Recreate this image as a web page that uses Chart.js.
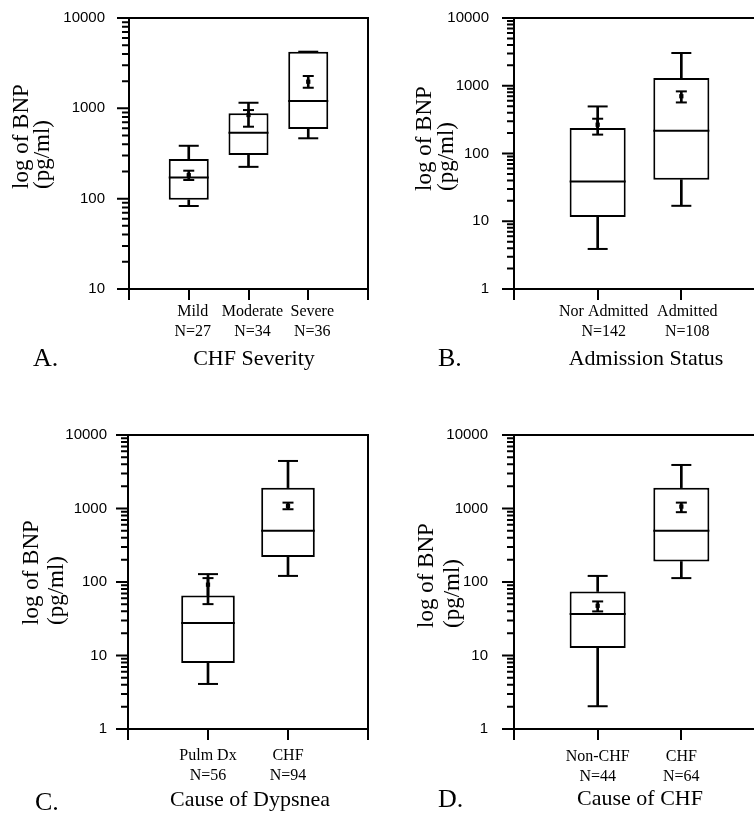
<!DOCTYPE html>
<html>
<head>
<meta charset="utf-8">
<script src="https://cdn.jsdelivr.net/npm/chart.js@4.4.1/dist/chart.umd.min.js"></script>
<style>
  html, body { margin: 0; padding: 0; background: #fff; }
  body { width: 754px; height: 813px; overflow: hidden; position: relative; }
  canvas { position: absolute; }
</style>
</head>
<body>
<canvas id="panelA" width="380" height="405" style="left:0;top:0;width:380px;height:405px"></canvas>
<canvas id="panelB" width="400" height="405" style="left:380px;top:0;width:400px;height:405px"></canvas>
<canvas id="panelC" width="380" height="408" style="left:0;top:405px;width:380px;height:408px"></canvas>
<canvas id="panelD" width="400" height="408" style="left:380px;top:405px;width:400px;height:408px"></canvas>
<script>
// A. CHF severity
const catsA = ['Mild', 'Moderate', 'Severe'];
const countsA = ['N=27', 'N=34', 'N=36'];
const minA = [83, 225, 466];
const q1A = [97, 304, 590];
const medA = [171, 537, 1206];
const q3A = [275, 881, 4236];
const maxA = [385, 1153, 4236];
const meanA = [182, 843, 1972];
const seLoA = [161, 626, 1690];
const seHiA = [204, 957, 2280];
const yTicksA = [10, 100, 1000, 10000];

// B. admission status
const catsB = ['Nor Admitted', 'Admitted'];
const countsB = ['N=142', 'N=108'];
const minB = [3.9, 16.9];
const q1B = [11.6, 41];
const medB = [38.7, 217];
const q3B = [238, 1301];
const maxB = [495, 3041];
const meanB = [266, 700];
const seLoB = [190, 567];
const seHiB = [326, 826];

// C. cause of dyspnea
const catsC = ['Pulm Dx', 'CHF'];
const countsC = ['N=56', 'N=94'];
const minC = [4.1, 121];
const q1C = [7.9, 218];
const medC = [27.6, 497];
const q3C = [65.6, 1923];
const maxC = [128, 4434];
const meanC = [92, 1084];
const seLoC = [50, 977];
const seHiC = [113, 1202];

// D. cause of CHF
const catsD = ['Non-CHF', 'CHF'];
const countsD = ['N=44', 'N=64'];
const minD = [2.04, 113];
const q1D = [12.6, 190];
const medD = [36.6, 497];
const q3D = [74.3, 1923];
const maxD = [121, 3911];
const meanD = [47.5, 1062];
const seLoD = [39.8, 891];
const seHiD = [54.4, 1202];

const yTicksBCD = [1, 10, 100, 1000, 10000];
const yTitle = ['log of BNP', '(pg/ml)'];

const SERIF = "'Liberation Serif', 'Times New Roman', serif";
const SANS = "'Liberation Sans', Arial, sans-serif";

function pts(values) {
  return values.map((v, i) => ({ x: i, y: v }));
}

// half of the box width in pixels, so the median line spans the box
function halfBox(chart) {
  const x = chart.scales.x;
  return (x.getPixelForValue(1) - x.getPixelForValue(0)) * 0.67 / 2;
}

function decor(p) {
  return {
    id: 'panelDecor',
    afterDraw(chart) {
      const { ctx, chartArea: a, scales: { y } } = chart;
      ctx.save();
      ctx.strokeStyle = '#000';
      ctx.lineWidth = 2;
      ctx.strokeRect(a.left, a.top, a.right - a.left, a.bottom - a.top);

      // log ticks: long at decades, short in between
      ctx.beginPath();
      y.ticks.forEach(t => {
        const py = y.getPixelForValue(t.value);
        const len = p.yTicks.includes(t.value) ? 12 : 7;
        ctx.moveTo(a.left - len, py);
        ctx.lineTo(a.left, py);
      });
      ctx.stroke();

      ctx.fillStyle = '#000';
      ctx.textBaseline = 'middle';
      ctx.font = '26px ' + SERIF;
      ctx.textAlign = 'left';
      ctx.fillText(p.letter, p.letterPos[0], p.letterPos[1]);
      ctx.font = '22px ' + SERIF;
      ctx.textAlign = 'center';
      ctx.fillText(p.xTitle, p.titlePos[0], p.titlePos[1]);

      ctx.font = '23px ' + SERIF;
      ctx.textAlign = 'left';
      ctx.textBaseline = 'alphabetic';
      yTitle.forEach((line, k) => {
        ctx.save();
        ctx.translate(p.yTitleX[k], p.yTitleBottom);
        ctx.rotate(-Math.PI / 2);
        ctx.fillText(line, 0, 0);
        ctx.restore();
      });
      ctx.restore();
    }
  };
}

function makePanel(id, p) {
  const n = p.cats.length;
  const whiskerCaps = pts(p.max).concat(pts(p.min));
  const seCaps = pts(p.seHi).concat(pts(p.seLo));

  new Chart(document.getElementById(id), {
    type: 'bar',
    data: {
      datasets: [
        { type: 'line', data: pts(p.mean), showLine: false, pointStyle: 'rect',
          pointRadius: 3, pointBackgroundColor: '#000', pointBorderWidth: 0, order: 0 },
        { type: 'line', data: seCaps, showLine: false, pointStyle: 'line',
          pointRadius: 5.5, pointBorderColor: '#000', borderColor: '#000', pointBorderWidth: 2, order: 1 },
        { type: 'bar', data: p.seLo.map((v, i) => ({ x: i, y: [v, p.seHi[i]] })),
          barThickness: 2, backgroundColor: '#000', borderWidth: 0, grouped: false, order: 2 },
        { type: 'line', data: pts(p.med), showLine: false, pointStyle: 'line',
          pointRadius: c => halfBox(c.chart), pointBorderColor: '#000', borderColor: '#000',
          pointBorderWidth: 2, order: 3 },
        { type: 'line', data: whiskerCaps, showLine: false, pointStyle: 'line',
          pointRadius: 10, pointBorderColor: '#000', borderColor: '#000', pointBorderWidth: 2, order: 4 },
        { type: 'bar', data: p.q3.map((v, i) => ({ x: i, y: [v, p.max[i]] })),
          barThickness: 2, backgroundColor: '#000', borderWidth: 0, grouped: false, order: 5 },
        { type: 'bar', data: p.min.map((v, i) => ({ x: i, y: [v, p.q1[i]] })),
          barThickness: 2, backgroundColor: '#000', borderWidth: 0, grouped: false, order: 5 },
        { type: 'bar', data: p.q1.map((v, i) => ({ x: i, y: [v, p.q3[i]] })),
          backgroundColor: '#fff', borderColor: '#000', borderWidth: 2, borderSkipped: false,
          barPercentage: 0.67, categoryPercentage: 1, grouped: false, order: 6 }
      ]
    },
    options: {
      responsive: false,
      animation: false,
      events: [],
      layout: { padding: { left: 0, top: p.area.top, right: p.w - p.area.right, bottom: 0 } },
      plugins: { legend: { display: false }, tooltip: { enabled: false } },
      scales: {
        x: {
          type: 'linear', min: -1, max: n, offset: false,
          afterBuildTicks: s => { s.ticks = [...Array(n + 2).keys()].map(k => ({ value: k - 1 })); },
          afterFit: s => { s.height = p.h - p.area.bottom; },
          grid: { display: true, offset: false, drawOnChartArea: false, drawTicks: true, tickLength: 11, color: '#000', lineWidth: 2 },
          border: { display: true, color: '#000', width: 2 },
          ticks: {
            autoSkip: false, maxRotation: 0, minRotation: 0, padding: p.xPad, labelOffset: p.xOff,
            color: '#000', font: { family: SERIF, size: 16, lineHeight: 1.25 },
            callback: v => (v >= 0 && v < n) ? [p.cats[v], p.counts[v]] : ''
          }
        },
        y: {
          type: 'logarithmic', min: p.yTicks[0], max: p.yTicks[p.yTicks.length - 1],
          afterBuildTicks: s => {
            const ticks = [];
            for (let k = 0; k < p.yTicks.length - 1; k++) {
              for (let m = 1; m < 10; m++) ticks.push({ value: p.yTicks[k] * m });
            }
            ticks.push({ value: p.yTicks[p.yTicks.length - 1] });
            s.ticks = ticks;
          },
          afterFit: s => { s.width = p.area.left; },
          // tick marks are drawn by the plugin; tickLength only sets the label gap
          grid: { display: false, drawTicks: true, tickLength: p.yPad - 2 },
          border: { display: true, color: '#000', width: 2 },
          ticks: {
            autoSkip: false, padding: 2, color: '#000',
            font: { family: SANS, size: 15 },
            callback: v => p.yTicks.includes(v) ? String(v) : ''
          }
        }
      }
    },
    plugins: [decor(p)]
  });
}

makePanel('panelA', {
  cats: catsA, counts: countsA, min: minA, q1: q1A, med: medA, q3: q3A, max: maxA,
  mean: meanA, seLo: seLoA, seHi: seHiA, yTicks: yTicksA,
  w: 380, h: 405, area: { left: 129, top: 18, right: 378, bottom: 289 },
  yPad: 24, xPad: 2, xOff: 4,
  letter: 'A.', letterPos: [33, 359], xTitle: 'CHF Severity', titlePos: [254, 359],
  yTitleX: [28, 48.5], yTitleBottom: 189
});

makePanel('panelB', {
  cats: catsB, counts: countsB, min: minB, q1: q1B, med: medB, q3: q3B, max: maxB,
  mean: meanB, seLo: seLoB, seHi: seHiB, yTicks: yTicksBCD,
  w: 400, h: 405, area: { left: 134, top: 18, right: 385, bottom: 289 },
  yPad: 25, xPad: 2, xOff: 6,
  letter: 'B.', letterPos: [58, 359], xTitle: 'Admission Status', titlePos: [266, 359],
  yTitleX: [51, 73], yTitleBottom: 191
});

makePanel('panelC', {
  cats: catsC, counts: countsC, min: minC, q1: q1C, med: medC, q3: q3C, max: maxC,
  mean: meanC, seLo: seLoC, seHi: seHiC, yTicks: yTicksBCD,
  w: 380, h: 408, area: { left: 128, top: 30, right: 378, bottom: 324 },
  yPad: 21, xPad: 6, xOff: 0,
  letter: 'C.', letterPos: [35, 398], xTitle: 'Cause of Dypsnea', titlePos: [250, 395],
  yTitleX: [37.5, 63], yTitleBottom: 220
});

makePanel('panelD', {
  cats: catsD, counts: countsD, min: minD, q1: q1D, med: medD, q3: q3D, max: maxD,
  mean: meanD, seLo: seLoD, seHi: seHiD, yTicks: yTicksBCD,
  w: 400, h: 408, area: { left: 134, top: 30, right: 385, bottom: 324 },
  yPad: 26, xPad: 7, xOff: 0,
  letter: 'D.', letterPos: [58, 395], xTitle: 'Cause of CHF', titlePos: [260, 394],
  yTitleX: [53, 79], yTitleBottom: 223
});
</script>
</body>
</html>
